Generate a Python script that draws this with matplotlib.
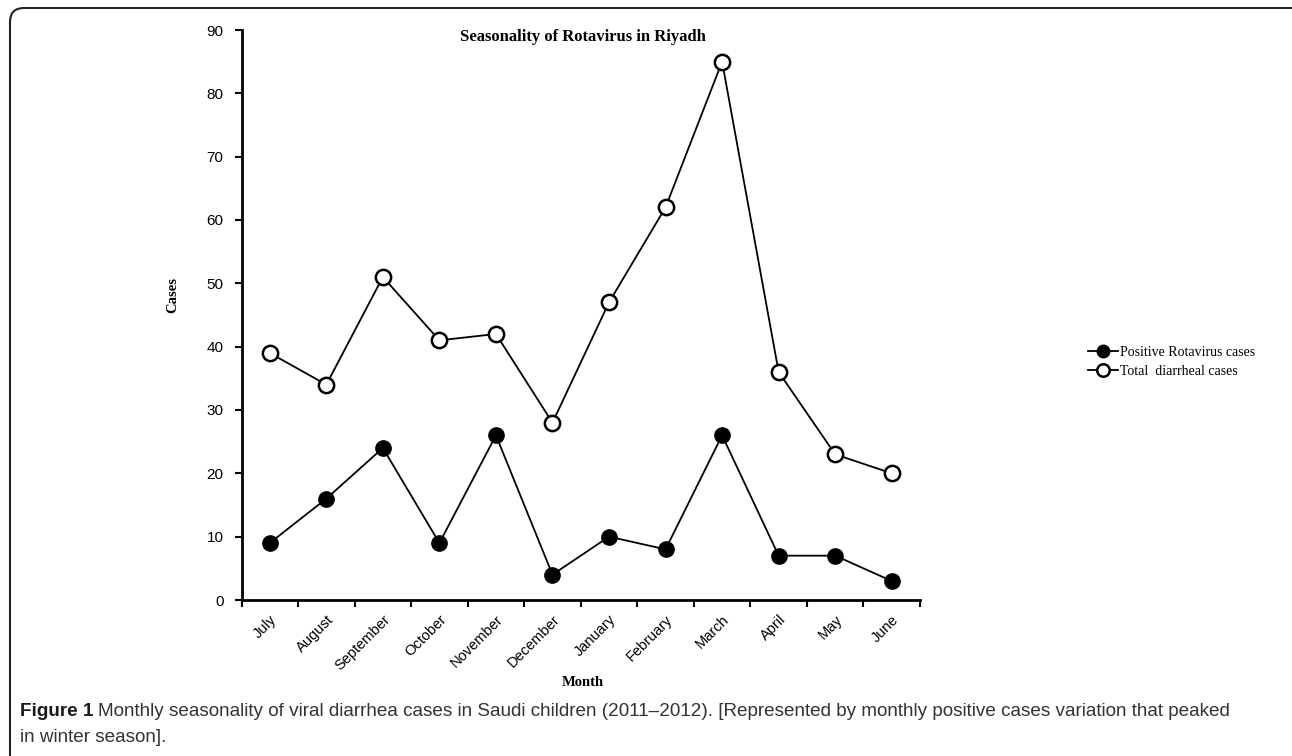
import numpy as np
import matplotlib
matplotlib.use('Agg')
from matplotlib import pyplot as plt
from matplotlib.patches import FancyBboxPatch
from matplotlib.transforms import IdentityTransform

months = ['July', 'August', 'September', 'October', 'November', 'December',
          'January', 'February', 'March', 'April', 'May', 'June']
positive_cases = [9, 16, 24, 9, 26, 4, 10, 8, 26, 7, 7, 3]
total_cases = [39, 34, 51, 41, 42, 28, 47, 62, 85, 36, 23, 20]

serif = ['Liberation Serif', 'DejaVu Serif']
sans = ['Liberation Sans', 'DejaVu Sans']

W, H = 1292, 756
fig = plt.figure(figsize=(W / 100, H / 100), dpi=100)
ax = fig.add_axes([241.5 / W, 1 - 600 / H, (920 - 241.5) / W, (600 - 30) / H])

x = np.arange(len(months)) + 0.5
ax.plot(x, positive_cases, '-', color='black', lw=1.3, marker='o', ms=11,
        mfc='black', mec='black', label='Positive Rotavirus cases')
ax.plot(x, total_cases, '-', color='black', lw=1.3, marker='o', ms=11,
        mfc='white', mec='black', mew=1.8, label='Total  diarrheal cases')

ax.set_xlim(0, len(months))
ax.set_ylim(0, 90)
ax.set_yticks(np.arange(0, 91, 10))
ax.set_xticks(np.arange(len(months) + 1))
ax.set_xticklabels([])
ax.set_xticks(x, minor=True)
ax.set_xticklabels(months, minor=True, rotation=45, ha='right',
                   rotation_mode='anchor', family=sans, fontsize=10.5)
ax.tick_params(axis='x', which='minor', length=0, pad=9)
ax.tick_params(axis='x', which='major', length=5, width=1.5, direction='out')
ax.tick_params(axis='y', length=5, width=1.5, direction='out', pad=8)
for lbl in ax.get_yticklabels():
    lbl.set_family(sans)
    lbl.set_fontsize(11)

for side in ['top', 'right']:
    ax.spines[side].set_visible(False)
for side in ['left', 'bottom']:
    ax.spines[side].set_linewidth(2)

fig.text(583 / W, 1 - 37 / H, 'Seasonality of Rotavirus in Riyadh', ha='center',
         va='center', family=serif, fontweight='bold', fontsize=12)
fig.text(173 / W, 1 - 295 / H, 'Cases', rotation=90, ha='center', va='center',
         family=serif, fontweight='bold', fontsize=10.5)
fig.text(583 / W, 1 - 682 / H, 'Month', ha='center', va='center',
         family=serif, fontweight='bold', fontsize=10.5)

leg = ax.legend(loc='center left', bbox_to_anchor=(1082 / W, 1 - 362 / H),
                bbox_transform=fig.transFigure, frameon=False,
                prop={'family': serif, 'size': 10}, handlelength=2.2,
                handletextpad=0.1, labelspacing=0.45, borderaxespad=0)
for h in leg.legend_handles:
    h.set_markersize(9)

# rounded frame around the figure
frame = FancyBboxPatch((10, -30), 1300, 778, boxstyle='round,pad=0,rounding_size=14',
                       transform=IdentityTransform(), fill=False,
                       edgecolor='#222222', lw=1.5)
fig.add_artist(frame)

# caption
fig.canvas.draw()
cap_font = dict(family=sans, fontsize=13.6)
t1 = fig.text(20 / W, 1 - 712 / H, 'Figure 1', ha='left', va='center',
              fontweight='bold', color='#1a1a1a', **cap_font)
bb = t1.get_window_extent(renderer=fig.canvas.get_renderer())
fig.text((bb.x1 + 5) / W, 1 - 712 / H,
         'Monthly seasonality of viral diarrhea cases in Saudi children (2011\u20132012). '
         '[Represented by monthly positive cases variation that peaked',
         ha='left', va='center', color='#333333', **cap_font)
fig.text(20 / W, 1 - 737 / H, 'in winter season].', ha='left', va='center',
         color='#333333', **cap_font)

fig.savefig('out.png', dpi=100)
